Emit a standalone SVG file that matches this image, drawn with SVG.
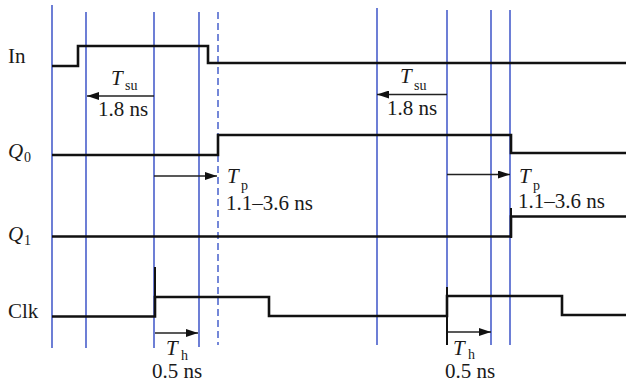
<svg xmlns="http://www.w3.org/2000/svg" width="626" height="385" viewBox="0 0 626 385">
<defs>
<marker id="ah" viewBox="0 0 12 8" refX="12" refY="4" markerWidth="12" markerHeight="8" markerUnits="userSpaceOnUse" orient="auto">
<path d="M0,0 L12,4 L0,8 z" fill="#111"/>
</marker>
<style>
.g{stroke:#2f48c4;stroke-width:1.4;fill:none}
.gd{stroke:#3a55c8;stroke-width:1.4;fill:none;stroke-dasharray:7 4}
.s{stroke:#111;stroke-width:2.6;fill:none}
.e{stroke:#111;stroke-width:2;fill:none}
.a{stroke:#222;stroke-width:1.4;fill:none;marker-end:url(#ah)}
text{font-family:"Liberation Serif","Times New Roman",serif;fill:#1a1a1a;font-size:21px}
.i{font-style:italic}
.sub{font-size:14px}
</style>
</defs>
<rect width="626" height="385" fill="#fff"/>
<g id="gridlines">
<line class="g" x1="52" y1="5" x2="52" y2="348"/>
<line class="g" x1="86" y1="12" x2="86" y2="348"/>
<line class="g" x1="154" y1="12" x2="154" y2="348"/>
<line class="g" x1="199" y1="12" x2="199" y2="347"/>
<line class="gd" x1="218" y1="12" x2="218" y2="345"/>
<line class="g" x1="377" y1="8" x2="377" y2="345"/>
<line class="g" x1="447" y1="10" x2="447" y2="345"/>
<line class="g" x1="491" y1="10" x2="491" y2="345"/>
<line class="g" x1="510" y1="10" x2="510" y2="345"/>
</g>
<g id="sig-in">
<text x="8" y="63">In</text>
<path class="s" d="M52,66 H78 V46 H208 V63 H626"/>
</g>
<g id="sig-q0">
<text x="8" y="158" class="i">Q</text><text x="24" y="162" class="sub">0</text>
<path class="s" d="M52,155 H218 V135 H511 V153 H626"/>
</g>
<g id="sig-q1">
<text x="8" y="241" class="i">Q</text><text x="24" y="245" class="sub">1</text>
<path class="s" d="M52,236.5 H511 V216.5 H626"/>
<line class="e" x1="511" y1="208" x2="511" y2="238"/>
</g>
<g id="sig-clk">
<text x="8" y="318">Clk</text>
<path class="s" d="M52,316.5 H155 V297 H269 V316 H447 V296 H562 V315 H626"/>
<line class="e" x1="155" y1="267" x2="155" y2="316"/>
<line class="e" x1="447" y1="287" x2="447" y2="345"/>
</g>
<g id="connectors">
<line class="a" x1="154" y1="96" x2="87" y2="96"/>
<line class="a" x1="447" y1="94.5" x2="377" y2="94.5"/>
<line class="a" x1="154" y1="176" x2="217" y2="176"/>
<line class="a" x1="447" y1="174.5" x2="510" y2="174.5"/>
<line class="a" x1="155" y1="333" x2="198" y2="333"/>
<line class="a" x1="448" y1="332" x2="491" y2="332"/>
</g>
<g id="labels">
<text x="111" y="85" class="i">T</text><text x="125" y="90" class="sub">su</text>
<text x="98" y="116">1.8 ns</text>
<text x="400" y="83" class="i">T</text><text x="414" y="90" class="sub">su</text>
<text x="387" y="115">1.8 ns</text>
<text x="227" y="183" class="i">T</text><text x="241" y="190" class="sub">p</text>
<text x="226" y="210">1.1–3.6 ns</text>
<text x="519" y="183" class="i">T</text><text x="533" y="190" class="sub">p</text>
<text x="518" y="208">1.1–3.6 ns</text>
<text x="166" y="355" class="i">T</text><text x="181" y="360" class="sub">h</text>
<text x="152" y="378">0.5 ns</text>
<text x="453" y="355" class="i">T</text><text x="468" y="359" class="sub">h</text>
<text x="445" y="378">0.5 ns</text>
</g>
</svg>
